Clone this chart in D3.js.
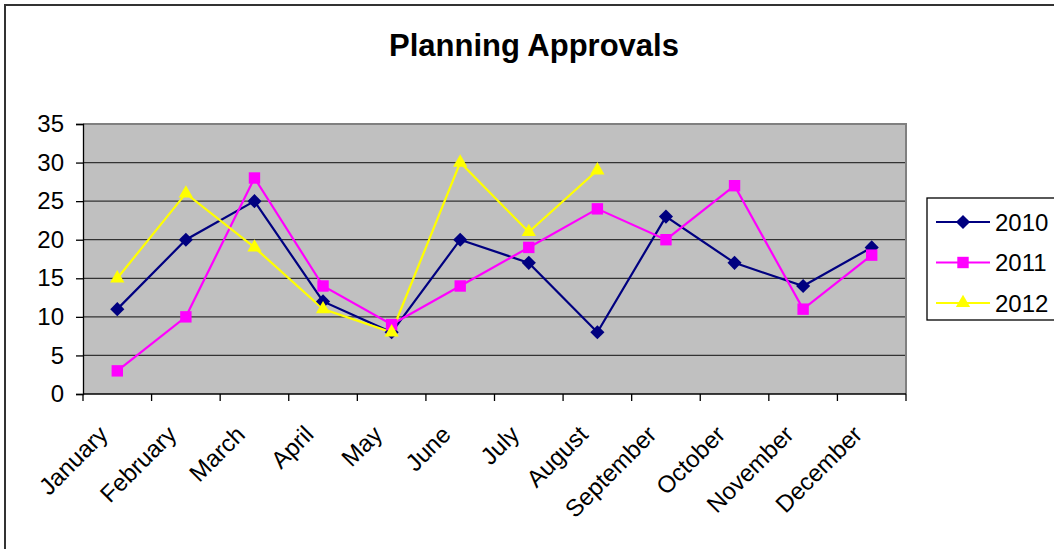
<!DOCTYPE html>
<html><head><meta charset="utf-8">
<script src="https://cdn.jsdelivr.net/npm/d3@7"></script>
<style>body{margin:0;background:#fff;}svg{display:block;font-family:"Liberation Sans",Arial,sans-serif;}</style>
</head><body>
<svg id="c" width="1054" height="549"></svg>
<script>
const months = ["January","February","March","April","May","June","July","August","September","October","November","December"];
const s2010 = [11,20,25,12,8,20,17,8,23,17,14,19];
const s2011 = [3,10,28,14,9,14,19,24,20,27,11,18];
const s2012 = [15,26,19,11,8,30,21,29];
const yTicks = [0,5,10,15,20,25,30,35];
const seriesNames = ["2010","2011","2012"];
const seriesColors = ["#000080","#FF00FF","#FFFF00"];
const seriesShapes = ["diamond","square","triangle"];
const series = [s2010, s2011, s2012].map((v,i)=>({name:seriesNames[i], values:v, color:seriesColors[i], shape:seriesShapes[i]}));

function marker(sel, shape, color){
  if(shape==="diamond"){
    sel.append("path").attr("transform","rotate(45)").attr("d",d3.symbol().type(d3.symbolSquare).size(100)).attr("fill",color);
  } else if(shape==="square"){
    sel.append("path").attr("d",d3.symbol().type(d3.symbolSquare).size(130)).attr("fill",color);
  } else {
    sel.append("path").attr("d",d3.symbol().type(d3.symbolTriangle).size(88)).attr("fill",color);
  }
}

const svg = d3.select("#c");
svg.append("path").attr("d","M5,549 L5,5 L1054,5").attr("fill","none").attr("stroke","#333").attr("stroke-width",2);

const L=83, R=906, T=124, B=394;
const x = d3.scaleBand().domain(months).range([L,R]).padding(0);
const y = d3.scaleLinear().domain([0,35]).range([B,T]);

svg.append("rect").attr("x",L).attr("y",T).attr("width",R-L).attr("height",B-T).attr("fill","#C0C0C0");
svg.append("g").selectAll("line").data(yTicks.filter(t=>t>0&&t<35)).join("line")
  .attr("x1",L).attr("x2",R).attr("y1",d=>y(d)).attr("y2",d=>y(d)).attr("stroke","#333").attr("stroke-width",1.3);
svg.append("path").attr("d",`M${L},${T} L${R},${T} L${R},${B}`).attr("fill","none").attr("stroke","#808080").attr("stroke-width",2);

const ya = svg.append("g").attr("transform",`translate(${L},0)`)
  .call(d3.axisLeft(y).tickValues(yTicks).tickSize(7).tickPadding(12).tickFormat(d3.format("d")));
ya.select(".domain").attr("stroke","#000").attr("stroke-width",1.3);
ya.selectAll(".tick line").attr("stroke","#000").attr("stroke-width",1.3);
ya.selectAll("text").attr("font-size",24).attr("fill","#000").attr("font-family","Liberation Sans, Arial, sans-serif");

const xa = svg.append("g").attr("transform",`translate(0,${B})`);
xa.append("line").attr("x1",L).attr("x2",R).attr("stroke","#000").attr("stroke-width",1.3);
const bounds = months.map(m=>x(m)).concat([R]);
xa.selectAll("line.tk").data(bounds).join("line").attr("class","tk")
  .attr("x1",d=>d).attr("x2",d=>d).attr("y1",0).attr("y2",7).attr("stroke","#000").attr("stroke-width",1.3);
xa.selectAll("text").data(months).join("text")
  .attr("transform",d=>`translate(${x(d)+x.bandwidth()/2-8},${42}) rotate(-45)`)
  .attr("text-anchor","end").attr("font-size",24).attr("fill","#000").text(d=>d);

const line = d3.line().x((d,i)=>x(months[i])+x.bandwidth()/2).y(d=>y(d));
series.forEach(s=>{
  svg.append("path").datum(s.values).attr("d",line).attr("fill","none").attr("stroke",s.color).attr("stroke-width",2.2);
});
series.forEach(s=>{
  svg.append("g").selectAll("g").data(s.values).join("g")
    .attr("transform",(d,i)=>`translate(${x(months[i])+x.bandwidth()/2},${y(d)})`)
    .each(function(){ marker(d3.select(this), s.shape, s.color); });
});

svg.append("text").attr("x",534).attr("y",56).attr("text-anchor","middle").attr("font-size",31).attr("font-weight","bold").attr("fill","#000").text("Planning Approvals");

const lg = svg.append("g");
lg.append("rect").attr("x",927).attr("y",198).attr("width",140).attr("height",122).attr("fill","#fff").attr("stroke","#000").attr("stroke-width",1.3);
series.forEach((s,i)=>{
  const cy = 222 + i*40.5;
  lg.append("line").attr("x1",936).attr("x2",990).attr("y1",cy).attr("y2",cy).attr("stroke",s.color).attr("stroke-width",2.2);
  marker(lg.append("g").attr("transform",`translate(963,${cy})`), s.shape, s.color);
  lg.append("text").attr("x",995).attr("y",cy).attr("dy","0.36em").attr("font-size",24).attr("fill","#000").text(s.name);
});
</script>
</body></html>
